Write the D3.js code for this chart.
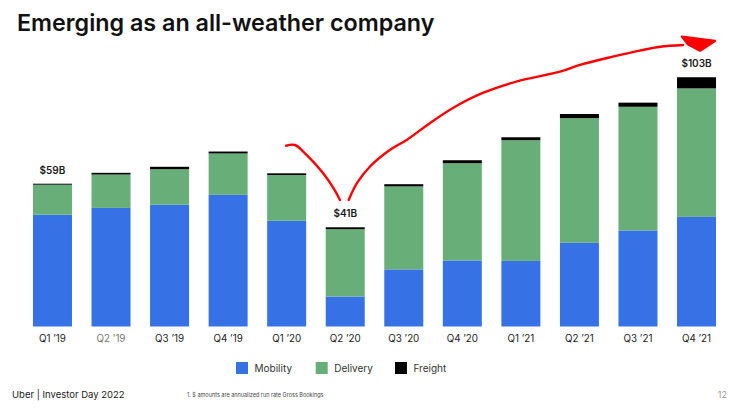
<!DOCTYPE html>
<html>
<head>
<meta charset="utf-8">
<script src="https://cdn.jsdelivr.net/npm/d3@7"></script>
<style>
  body { margin: 0; background: #fff; }
  svg { display: block; font-family: Inter, "Noto Sans", sans-serif; }
</style>
</head>
<body>
<svg id="chart" width="743" height="410"></svg>
<script>
"use strict";

// quarters and gross bookings split ($B, annualized run rate)
var quarters = ["Q1 \u201919", "Q2 \u201919", "Q3 \u201919", "Q4 \u201919", "Q1 \u201920", "Q2 \u201920",
                "Q3 \u201920", "Q4 \u201920", "Q1 \u201921", "Q2 \u201921", "Q3 \u201921", "Q4 \u201921"]
var mobility = [46.2, 49.0, 50.3, 54.4, 43.7, 12.4, 23.6, 27.3, 27.1, 34.6, 39.7, 45.3]
var delivery = [12.4, 13.8, 14.7, 17.1, 18.9, 27.8, 34.3, 40.2, 49.9, 51.5, 51.1, 53.1]
var freight  = [0.4, 0.7, 1.0, 0.8, 0.7, 0.8, 0.9, 1.2, 1.2, 1.7, 1.7, 4.6]
var valueLabels = [[0, "$59B"], [5, "$41B"], [11, "$103B"]]
var seriesNames = ["Mobility", "Delivery", "Freight"]
var colors = ["#3672e5", "#67ae79", "#000000"]

// hand drawn arrow, in (bar index, $B) units
var hookPts = [[3.99, 74.7], [4.14, 75.0], [4.34, 70.9], [4.62, 63.4], [4.82, 56.4], [4.91, 52.3]]
var risePts = [[5.06, 52.3], [5.20, 59.2], [5.42, 66.0], [5.76, 72.9], [6.05, 77.1], [6.45, 84.1],
               [6.84, 90.3], [7.35, 96.5], [7.98, 101.6], [8.67, 105.3], [9.01, 108.1], [9.57, 111.5],
               [10.03, 114.0], [10.38, 115.6], [10.77, 116.3]]
var headPts = [[10.75, 119.8], [11.315, 118.0], [11.06, 114.0], [10.85, 116.7]]

var svg = d3.select("#chart")

var x = d3.scaleBand().domain(quarters).range([23.2, 725.8]).paddingInner(0.334).paddingOuter(0.167)
var y = d3.scaleLinear().domain([0, 100]).range([326.5, 84.5])

var rows = quarters.map((q, i) => ({q: q, Mobility: mobility[i], Delivery: delivery[i], Freight: freight[i]}))
var stacked = d3.stack().keys(seriesNames)(rows)

svg.append("text")
    .attr("x", 17).attr("y", 31)
    .attr("font-size", 23.3).attr("font-weight", 600).attr("fill", "#111")
    .text("Emerging as an all-weather company")

var bars = svg.append("g")
stacked.forEach(function (layer, k) {
    bars.selectAll(null).data(layer).enter().append("rect")
        .attr("x", d => x(d.data.q))
        .attr("width", x.bandwidth())
        .attr("y", d => y(d[1]))
        .attr("height", d => y(d[0]) - y(d[1]))
        .attr("fill", colors[k])
})

svg.append("g").selectAll("text").data(valueLabels).enter().append("text")
    .attr("x", d => x(quarters[d[0]]) + x.bandwidth() / 2)
    .attr("y", d => y(mobility[d[0]] + delivery[d[0]] + freight[d[0]]) - 10)
    .attr("text-anchor", "middle")
    .attr("font-size", 10).attr("font-weight", 600).attr("fill", "#1a1a1a")
    .text(d => d[1])

var xAxis = d3.axisBottom(x).tickSize(0).tickPadding(9)
var gx = svg.append("g").attr("transform", "translate(0," + y(0) + ")").call(xAxis)
gx.select(".domain").remove()
gx.selectAll("text")
    .attr("font-family", "Inter, 'Noto Sans', sans-serif")
    .attr("font-size", 9.8)
    .attr("fill", (d, i) => i === 1 ? "#777" : "#222")

// red annotation
var px = d => x(quarters[0]) + x.bandwidth() / 2 + d[0] * x.step()
var line = d3.line().x(px).y(d => y(d[1])).curve(d3.curveCatmullRom)
var ann = svg.append("g").attr("fill", "none").attr("stroke", "#f00").attr("stroke-width", 2.4)
    .attr("stroke-linecap", "round")
ann.append("path").attr("d", line(hookPts))
ann.append("path").attr("d", line(risePts))
ann.append("path").attr("d", d3.line().x(px).y(d => y(d[1]))(headPts) + "Z")
    .attr("fill", "#f00").attr("stroke-linejoin", "round")

// legend
var legend = svg.append("g").attr("transform", "translate(236,362)")
var lx = [0, 79.7, 159]
seriesNames.forEach(function (name, k) {
    legend.append("rect").attr("x", lx[k]).attr("y", 0).attr("width", 12).attr("height", 12).attr("fill", colors[k])
    legend.append("text").attr("x", lx[k] + 18.5).attr("y", 10)
        .attr("font-size", 10).attr("fill", "#333").text(name)
})

// footer
svg.append("text").attr("x", 12).attr("y", 398).attr("font-size", 9.5).attr("fill", "#222")
    .text("Uber  |  Investor Day 2022")
svg.append("text").attr("x", 187).attr("y", 397).attr("font-size", 5.5).attr("fill", "#444")
    .text("1. $ amounts are annualized run rate Gross Bookings")
svg.append("text").attr("x", 727).attr("y", 398).attr("text-anchor", "end").attr("font-size", 9).attr("fill", "#999")
    .text("12")
</script>
</body>
</html>
